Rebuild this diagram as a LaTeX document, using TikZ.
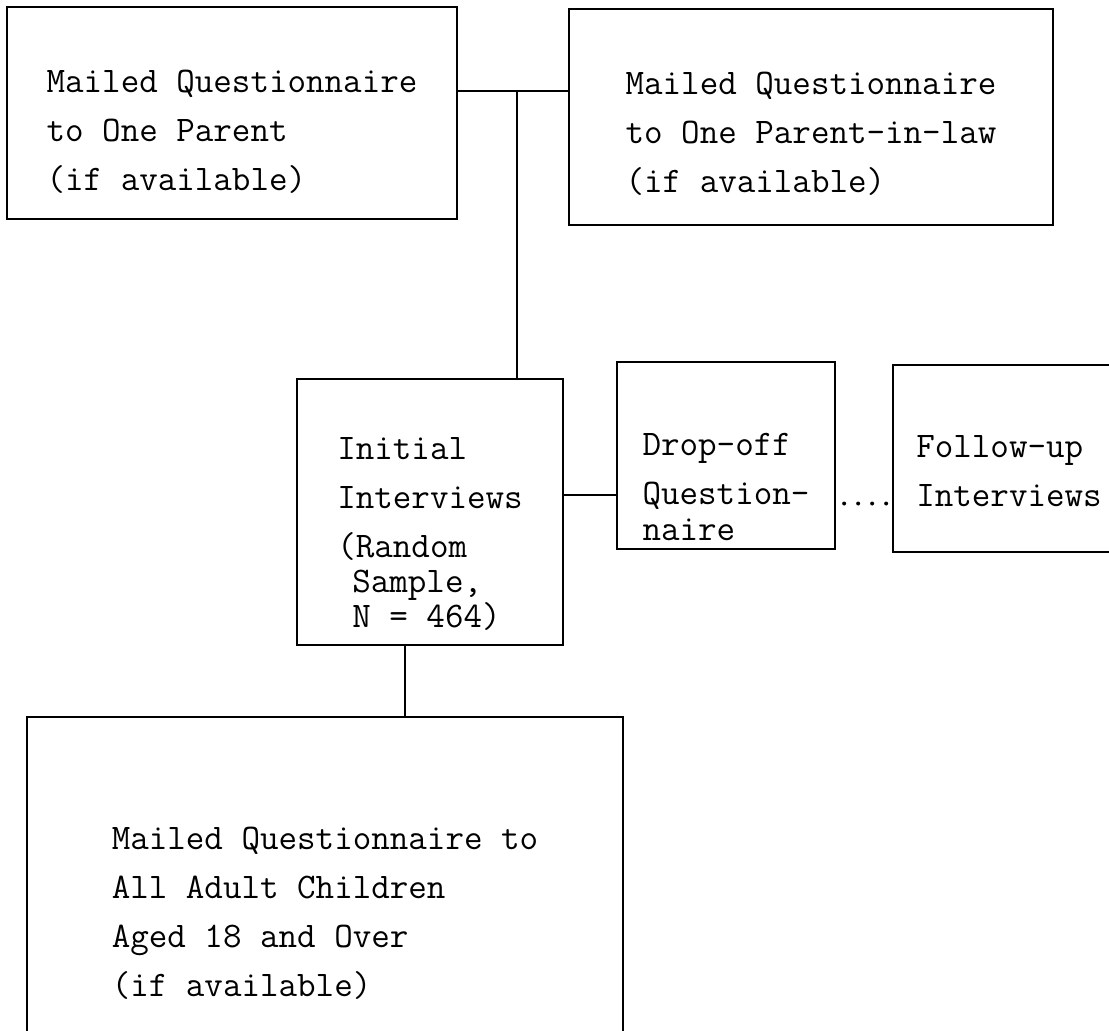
\documentclass[tikz,border=0pt]{standalone}
\usepackage{fontspec}
\usepackage{tikz}
\newcommand\toppad[1]{\rule{0pt}{#1pt}}

\begin{document}
\begin{tikzpicture}[x=1pt,y=-1pt,line cap=round,
  font=\ttfamily\fontsize{36}{49}\selectfont,
  stagebox/.style={draw,line width=2.3pt,align=left,inner sep=0pt},
  link/.style={line width=1.8pt}]
\useasboundingbox (0,0) rectangle (1109,1031);
\node[stagebox,minimum width=450pt,minimum height=212pt] (parent) at (232,113)
  {\toppad{59}Mailed Questionnaire\\to One Parent\\(if available)};
\node[stagebox,minimum width=484pt,minimum height=216pt] (inlaw) at (811,117)
  {\toppad{55}Mailed Questionnaire\\to One Parent-in-law\\(if available)};
\node[stagebox,minimum width=266pt,minimum height=266pt] (initial) at (430,512)
  {\toppad{65}Initial\\Interviews\\(Random\\[-14pt]\hspace*{15pt}Sample,\\[-14pt]\hspace*{15pt}N = 464)};
\node[stagebox,minimum width=218pt,minimum height=187pt] (dropoff) at (726,455.5)
  {\toppad{86}Drop-off\\Question-\\[-13pt]naire};
\node[stagebox,minimum width=232pt,minimum height=187pt] (followup) at (1009,458.5)
  {\toppad{48}Follow-up\\Interviews};
\node[stagebox,minimum width=596pt,minimum height=376pt] (children) at (325,905)
  {\toppad{38}Mailed Questionnaire to\\All Adult Children\\Aged 18 and Over\\(if available)};
\coordinate (join) at (517,91);
\draw[link] (parent.east |- join) -- (inlaw.west |- join);
\draw[link] (join) -- (join |- initial.north);
\draw[link] ([yshift=17pt]initial.east) coordinate (side) -- (side -| dropoff.west);
\draw[line width=4pt,dash pattern=on 0pt off 14pt] ([shift={(8pt,-48pt)}]dropoff.east) -- ([shift={(-5pt,-45pt)}]followup.west);
\draw[link] ([xshift=-25pt]initial.south) coordinate (down) -- (down |- children.north);
\end{tikzpicture}
\end{document}
